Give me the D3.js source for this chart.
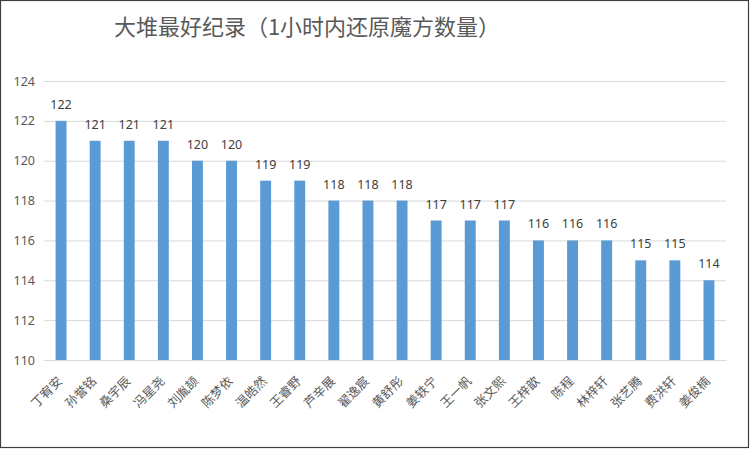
<!DOCTYPE html>
<html>
<head>
<meta charset="utf-8">
<script src="https://cdn.jsdelivr.net/npm/d3@7"></script>
<style>
	html, body { margin: 0; padding: 0; background: #fff; }
	svg text { font-family: "Noto Sans", "Noto Sans CJK SC", sans-serif; }
</style>
</head>
<body>
<div class="Chart"></div>
<script>
// chart data
var names = ["丁宥安", "孙誉铭", "桑宇辰", "冯星尧", "刘胤颉", "陈梦依", "温皓然", "王睿野", "芦辛展", "翟逸宸",
	"黄舒彤", "姜轶宁", "王一帆", "张文熙", "王梓歆", "陈程", "林梓轩", "张艺腾", "费洪轩", "姜俊楠"];
var records = [122, 121, 121, 121, 120, 120, 119, 119, 118, 118, 118, 117, 117, 117, 116, 116, 116, 115, 115, 114];
var yTicks = [110, 112, 114, 116, 118, 120, 122, 124];
var title = "大堆最好纪录（1小时内还原魔方数量）";

var width = 750, height = 449;
var plotLeft = 44, plotRight = 726, plotTop = 81, plotBottom = 360;

var svg = d3.select('.Chart').append('svg')
	.attr('width', width)
	.attr('height', height);

//Frame
svg.append('rect')
	.attr('x', 0.5).attr('y', 0.5)
	.attr('width', width - 2).attr('height', height - 2)
	.style('fill', '#fff')
	.style('stroke', '#404040')
	.style('stroke-width', 1.2);

var x = d3.scaleBand()
	.domain(names)
	.range([plotLeft, plotRight])
	.paddingInner(0.68)
	.paddingOuter(0.34);

var y = d3.scaleLinear()
	.domain([110, 124])
	.range([plotBottom, plotTop]);

//Gridlines and y labels
var yAxis = d3.axisLeft(y)
	.tickValues(yTicks)
	.tickSize(-(plotRight - plotLeft))
	.tickPadding(9)
	.tickFormat(d3.format('d'));

var gy = svg.append('g')
	.attr('transform', 'translate(' + plotLeft + ',0)')
	.call(yAxis);
gy.select('.domain').remove();
gy.selectAll('.tick line').style('stroke', '#d9d9d9').style('stroke-width', 1);
gy.selectAll('.tick text')
	.style('font-size', '12.5px')
	.style('fill', '#595959');

//Bars
svg.selectAll('.bar')
	.data(records)
	.enter().append('rect')
	.attr('class', 'bar')
	.attr('x', function(d, i) { return x(names[i]); })
	.attr('y', function(d) { return y(d); })
	.attr('width', x.bandwidth())
	.attr('height', function(d) { return y(110) - y(d); })
	.style('fill', '#5b9bd5');

//Value labels
svg.selectAll('.value')
	.data(records)
	.enter().append('text')
	.attr('class', 'value')
	.attr('x', function(d, i) { return x(names[i]) + x.bandwidth() / 2; })
	.attr('y', function(d) { return y(d) - 12; })
	.attr('text-anchor', 'middle')
	.style('font-size', '12.5px')
	.style('fill', '#404040')
	.text(function(d) { return d; });

//Category labels
var xAxis = d3.axisBottom(x).tickSize(0).tickPadding(0);
var gx = svg.append('g')
	.attr('transform', 'translate(0,' + plotBottom + ')')
	.call(xAxis);
gx.select('.domain').style('stroke', '#d9d9d9');
gx.selectAll('.tick text')
	.attr('text-anchor', 'end')
	.attr('transform', 'translate(2,22) rotate(-45)')
	.attr('y', 0).attr('dy', 0)
	.style('font-family', '"Noto Sans CJK SC", sans-serif')
	.style('font-size', '12.5px')
	.style('fill', '#595959');

//Title
svg.append('text')
	.attr('x', 307)
	.attr('y', 35)
	.attr('text-anchor', 'middle')
	.style('font-family', '"Noto Sans CJK SC", sans-serif')
	.style('font-size', '22px')
	.style('fill', '#595959')
	.text(title);
</script>
</body>
</html>
